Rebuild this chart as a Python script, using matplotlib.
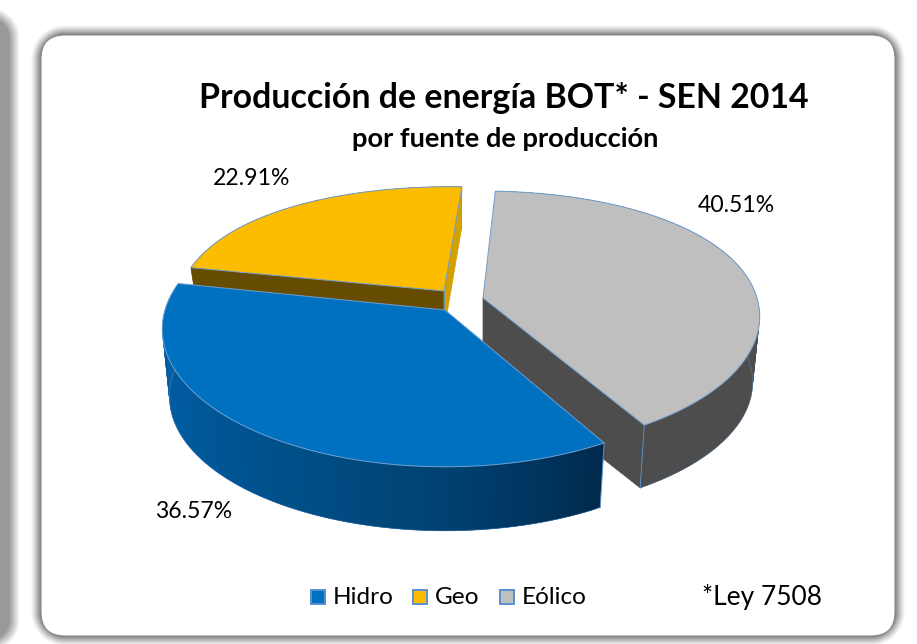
import numpy as np
import matplotlib
matplotlib.use("Agg")
import matplotlib.pyplot as plt
from matplotlib.patches import Polygon, Rectangle, FancyBboxPatch

plt.rcParams["font.family"] = ["Lato", "DejaVu Sans"]

# data
categories = ["Hidro", "Geo", "Eólico"]
shares = [36.57, 22.91, 40.51]
colors = ["#0070c0", "#fcbc00", "#bfbfbf"]
title = "Producción de energía BOT* - SEN 2014"
subtitle = "por fuente de producción"
note = "*Ley 7508"

# pie layout (pixels)
start_angle = 148.8
tilt_k = 0.139
slice_style = {
    "Hidro": dict(apex=(445, 310), R=280, B=135, depth=68, rot=1.2, back=0.0, skew=0),
    "Geo": dict(apex=(444, 291), R=265, B=135, depth=40, rot=0.0, back=0.12, skew=6),
    "Eólico": dict(apex=(483, 298), R=274, B=131, depth=66, rot=0.0, back=0.07, skew=0),
}
label_pos = {"Hidro": (194, 512), "Geo": (252, 178), "Eólico": (736, 205)}
legend_x = {"Hidro": 310, "Geo": 412, "Eólico": 499}

W, H = 917, 644
fig = plt.figure(figsize=(W / 100, H / 100), dpi=100)
ax = fig.add_axes([0, 0, 1, 1])
ax.set_xlim(0, W)
ax.set_ylim(H, 0)
ax.axis("off")


def rounded_dist(xx, yy, x0, y0, x1, y1, r):
    cx, cy = (x0 + x1) / 2, (y0 + y1) / 2
    qx = np.abs(xx - cx) - ((x1 - x0) / 2 - r)
    qy = np.abs(yy - cy) - ((y1 - y0) / 2 - r)
    return np.hypot(np.maximum(qx, 0), np.maximum(qy, 0)) + np.minimum(np.maximum(qx, qy), 0) - r


# shadows of the two panels
xx, yy = np.meshgrid(np.arange(W) + 0.5, np.arange(H) + 0.5)
d_main = rounded_dist(xx, yy, 41, 35, 895, 636, 24)
main_shadow = np.clip(1 - d_main / 10.5, 0, 1) ** 1.3 * 0.52
d_left = rounded_dist(xx, yy, -200, 18, 9, 640, 20)
left_shadow = np.clip(1 - d_left / 11, 0, 1) * 0.40
shade = 1 - np.maximum(main_shadow, left_shadow)
ax.imshow(shade, cmap="gray", vmin=0, vmax=1, extent=(0, W, H, 0), aspect="auto", zorder=0)

ax.add_patch(FancyBboxPatch((41 + 24, 35 + 24), 854 - 48, 601 - 48,
                            boxstyle="round,pad=24,rounding_size=24",
                            fc="white", ec="#8c8c8c", lw=0.8, zorder=1))


def rim_points(theta_deg, st):
    t = np.radians(theta_deg)
    c = np.cos(t)
    s = 1 / (1 + tilt_k * c)
    x = st["apex"][0] + st["R"] * np.sin(t) * s + st["skew"] * np.maximum(c, 0)
    y = st["apex"][1] - st["B"] * c * s * (1 - st["back"] * np.maximum(c, 0))
    return np.column_stack([x, y])


def lower(pts, st, shrink=0.975):
    apex = np.array(st["apex"], dtype=float)
    return apex + (pts - apex) * shrink + np.array([0, st["depth"]])


def side_color(name, frac):
    # frac runs clockwise along the slice rim
    if name == "Hidro":
        stops = np.array([[0x00, 0x2a, 0x4d], [0x00, 0x3f, 0x6e], [0x00, 0x50, 0x89],
                          [0x00, 0x5a, 0x9f], [0x0a, 0x62, 0xa8]]) / 255
        pos = [0, 0.2, 0.45, 0.7, 1]
        return [float(np.interp(frac, pos, stops[:, i])) for i in range(3)]
    if name == "Geo":
        return "#8a6700"
    return "#4d4d4d"


# spans per category, clockwise from the start angle
spans = {}
a = start_angle
for name, v in zip(categories, shares):
    rot = slice_style[name]["rot"]
    spans[name] = (a + rot, a + rot + v * 3.6)
    a += v * 3.6


def draw_slice(name, color, base):
    st = slice_style[name]
    th0, th1 = spans[name]
    th = np.linspace(th0, th1, 181)
    top = rim_points(th, st)
    bot = lower(top, st)
    apex = np.array(st["apex"], dtype=float)
    apex_low = apex + np.array([0, st["depth"]])

    # outer side, quads overlap so no seams show
    for i in range(len(th) - 1):
        j = min(i + 3, len(th) - 1)
        c = side_color(name, i / (len(th) - 1))
        ax.add_patch(Polygon([top[i], top[j], bot[j], bot[i]], fc=c, ec="none", zorder=base))

    # cut faces
    if name == "Geo":
        ax.add_patch(Polygon([apex, top[0], bot[0], apex_low], fc="#664c00", ec="#664c00", lw=0.5, zorder=base + 0.1))
        ax.add_patch(Polygon([apex, top[-1], bot[-1], apex_low], fc="#d2a000", ec="#d2a000", lw=0.5, zorder=base + 0.1))
        ax.plot([apex[0], apex[0]], [apex[1], apex[1] + 18], color="#5b8fc9", lw=0.6, zorder=base + 0.2)
    if name == "Eólico":
        ax.add_patch(Polygon([apex, top[-1], bot[-1], apex_low], fc="#4d4d4d", ec="#4d4d4d", lw=0.5, zorder=base + 0.1))
        ax.plot([top[-1][0], bot[-1][0]], [top[-1][1], bot[-1][1]], color="#5b8fc9", lw=0.7, zorder=base + 0.2)
    if name == "Hidro":
        ax.plot([top[0][0], bot[0][0]], [top[0][1], bot[0][1]], color="#5b8fc9", lw=0.7, zorder=base + 0.2)
    if name != "Geo":
        ax.plot(bot[:, 0], bot[:, 1], color="#5b8fc9", lw=0.5, alpha=0.6, zorder=base + 0.2)

    # top face
    ax.add_patch(Polygon(np.vstack([apex, top]), closed=True, fc=color, ec="#6f9fd0", lw=0.7, zorder=base + 0.3))


# back to front
draw_slice("Geo", colors[1], 3)
draw_slice("Eólico", colors[2], 4)
draw_slice("Hidro", colors[0], 5)

# texts
ax.text(504, 98, title, ha="center", va="center", fontsize=24.4, fontweight="bold", color="black", zorder=20)
ax.text(505, 139, subtitle, ha="center", va="center", fontsize=19.6, fontweight="bold", color="black", zorder=20)
for name, v in zip(categories, shares):
    px, py = label_pos[name]
    ax.text(px, py, f"{v:.2f}%", ha="center", va="center", fontsize=16.6, color="black", zorder=20)

# legend
for name, c in zip(categories, colors):
    lx = legend_x[name]
    ax.add_patch(Rectangle((lx + 0.7, 589.7), 14.6, 14.6, fc=c, ec="#5b8fd0", lw=1.4, zorder=20))
    ax.text(lx + 23, 597, name, ha="left", va="center", fontsize=17.6, color="black", zorder=20)
ax.text(762, 597, note, ha="center", va="center", fontsize=19, color="black", zorder=20)

fig.savefig("out.png", dpi=100)
